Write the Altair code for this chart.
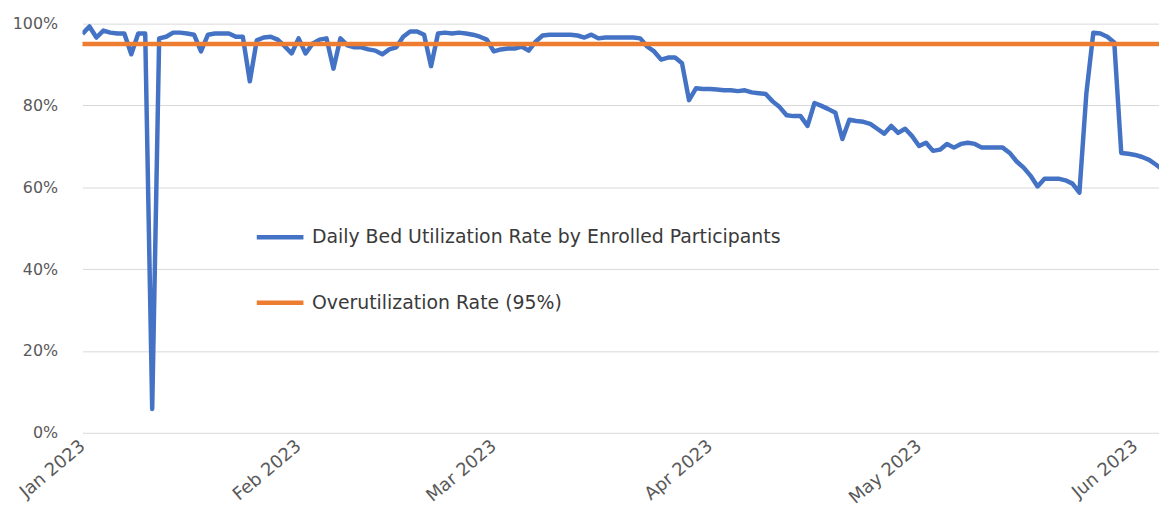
import altair as alt
import pandas as pd

start_date = "2023-01-01"

# Daily bed utilization rate (%), Jan 1 .. Jun 5 2023
utilization = [
    # Jan
    97.5, 99.3, 96.6, 98.3, 97.8, 97.6, 97.6, 92.5, 97.6, 97.6,
    5.8, 96.4, 96.8, 97.8, 97.8, 97.6, 97.3, 93.2, 97.3, 97.6,
    97.6, 97.6, 96.8, 96.8, 85.9, 95.9, 96.6, 96.8, 96.1, 94.5, 92.7,
    # Feb
    96.4, 92.7, 95.1, 96.1, 96.4, 89.0, 96.4, 94.7, 94.2, 94.2,
    93.7, 93.4, 92.5, 93.7, 94.2, 96.8, 98.1, 98.1, 97.3, 89.6,
    97.6, 97.8, 97.6, 97.8, 97.6, 97.3, 96.8, 96.1,
    # Mar
    93.2, 93.7, 93.9, 93.9, 94.4, 93.4, 95.6, 97.1, 97.3, 97.3,
    97.3, 97.3, 97.1, 96.6, 97.3, 96.4, 96.6, 96.6, 96.6, 96.6,
    96.6, 96.4, 94.4, 93.2, 91.2, 91.7, 91.7, 90.3, 81.3, 84.2, 84.0,
    # Apr
    84.0, 83.9, 83.7, 83.7, 83.5, 83.7, 83.2, 83.0, 82.8, 81.0,
    79.6, 77.6, 77.4, 77.4, 75.0, 80.6, 79.9, 79.1, 78.2, 71.8,
    76.5, 76.2, 76.0, 75.5, 74.3, 73.1, 75.0, 73.3, 74.3, 72.5,
    # May
    70.1, 70.9, 68.9, 69.2, 70.6, 69.7, 70.6, 70.9, 70.6, 69.7,
    69.7, 69.7, 69.7, 68.4, 66.3, 64.8, 62.8, 60.2, 62.1, 62.1,
    62.1, 61.7, 60.9, 58.7, 83.0, 97.8, 97.6, 96.8, 95.4, 68.4, 68.2,
    # Jun
    67.9, 67.4, 66.7, 65.5, 64.2,
]

series_names = [
    "Daily Bed Utilization Rate by Enrolled Participants",
    "Overutilization Rate (95%)",
]
series_colors = ["#4472C4", "#ED7D31"]
threshold = [95]
y_ticks = [0, 20, 40, 60, 80, 100]
month_ticks = [1, 2, 3, 4, 5, 6]

dates = pd.date_range(start_date, periods=len(utilization), freq="D").strftime("%Y-%m-%dT00:00:00")
line_df = pd.DataFrame({"date": list(dates), "value": utilization, "series": series_names[0]})
rule_df = pd.DataFrame({"value": threshold, "series": [series_names[1]]})

FONT = "DejaVu Sans"

color = alt.Color(
    "series:N",
    scale=alt.Scale(domain=series_names, range=series_colors),
    legend=alt.Legend(
        title=None,
        orient="none",
        legendX=173,
        legendY=189,
        symbolType="stroke",
        symbolStrokeWidth=4.5,
        symbolSize=2209,
        labelFontSize=19,
        labelFont=FONT,
        labelColor="#3A3A3A",
        labelLimit=900,
        rowPadding=30,
        labelOffset=6,
    ),
)

x = alt.X(
    "date:T",
    scale=alt.Scale(domain=[alt.DateTime(year=2023, month=1, date=1),
                            alt.DateTime(year=2023, month=6, date=4, hours=10)]),
    axis=alt.Axis(
        values=[alt.DateTime(year=2023, month=m, date=1) for m in month_ticks],
        format="%b %Y",
        labelAngle=320,
        labelAlign="right",
        labelBaseline="middle",
        labelPadding=11,
        labelFontSize=18,
        labelFont=FONT,
        labelColor="#595959",
        labelFlush=False,
        labelOverlap=False,
        domain=False,
        ticks=False,
        grid=False,
        title=None,
    ),
)

y = alt.Y(
    "value:Q",
    scale=alt.Scale(domain=[0, 100], nice=False),
    axis=alt.Axis(
        values=y_ticks,
        labelExpr="datum.value + '%'",
        grid=True,
        gridColor="#D9D9D9",
        gridWidth=1,
        domain=False,
        ticks=False,
        labelPadding=25,
        labelFontSize=16,
        labelFont=FONT,
        labelColor="#595959",
        title=None,
    ),
)

line = alt.Chart(line_df).mark_line(strokeWidth=4.5, strokeJoin="round", clip=True).encode(
    x=x, y=y, color=color
)
rule = alt.Chart(rule_df).mark_rule(strokeWidth=4.5).encode(y=alt.Y("value:Q"), color=color)

chart = (
    alt.layer(line, rule)
    .properties(
        width=1084,
        height=412,
        padding={"left": 75, "top": 14, "right": 0, "bottom": 74},
        autosize=alt.AutoSizeParams(type="none"),
        background="white",
    )
    .configure_view(stroke=None)
)

chart.save("out.html", embed_options={"renderer": "svg", "actions": False})
